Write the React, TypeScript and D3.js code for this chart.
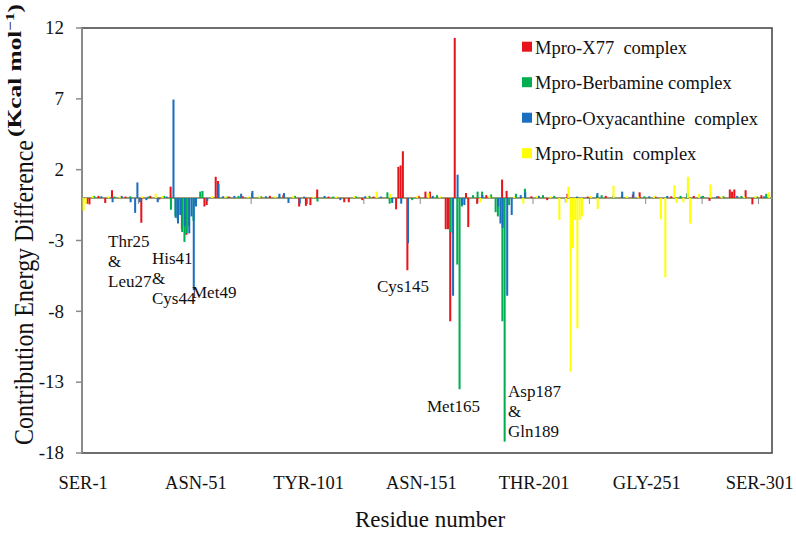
import React from "react";
import * as d3 from "d3";

// ---------- data ----------
const residues: number[] = d3.range(1, 307); // residue categories 1..306
const tickResidues = [1, 51, 101, 151, 201, 251, 301];
const tickLabels = ["SER-1", "ASN-51", "TYR-101", "ASN-151", "THR-201", "GLY-251", "SER-301"];
const yTicks = [-18, -13, -8, -3, 2, 7, 12];

const seriesNames = ["Mpro-X77  complex", "Mpro-Berbamine complex", "Mpro-Oxyacanthine  complex", "Mpro-Rutin  complex"];
const seriesColors = ["#e8141c", "#00ad50", "#1a6fbf", "#ffff00"];

// [residue, energy difference]; residues not listed are 0
const x77: [number, number][] = [
  [3, -0.4], [4, -0.45], [8, 0.15], [11, -0.35], [14, 0.55], [20, 0.1], [27, -1.75], [31, 0.15], [35, -0.1],
  [40, 0.8], [45, -2.2], [47, -2.6], [55, -0.6], [56, -0.5], [60, 1.5], [61, 1.2], [66, 0.1], [72, 0.12],
  [84, 0.15], [90, 0.2], [97, -0.6], [100, -0.55], [102, -0.5], [105, 0.6], [110, 0.1], [117, -0.3], [119, -0.3],
  [125, -0.15], [130, 0.1], [140, -0.8], [141, 2.2], [142, 2.3], [143, 3.3], [145, -5.1], [150, 0.15], [153, 0.45],
  [155, 0.45], [162, -2.2], [163, -2.2], [164, -8.7], [166, 11.3], [171, 0.35], [172, -2.05], [176, -0.4],
  [180, 0.2], [187, 1.3], [189, 0.5], [200, 0.12], [207, -0.15], [216, 0.3], [225, 0.1], [233, 0.15], [245, 0.25],
  [248, 0.4], [255, 0.1], [262, 0.12], [272, 0.15], [279, -0.2], [283, 0.12], [288, 0.6], [289, 0.45], [290, 0.6],
  [295, 0.55], [298, -0.45], [302, 0.2],
];
const berbamine: [number, number][] = [
  [6, 0.15], [15, 0.1], [22, 0.12], [30, 0.1], [37, 0.15], [40, -0.83], [42, -1.3], [43, -1.5], [45, -2.4],
  [46, -3.1], [47, -2.5], [48, -2.0], [50, -1.6], [53, 0.45], [54, 0.5], [65, 0.1], [70, 0.15], [76, 0.35],
  [80, 0.12], [88, 0.1], [95, 0.15], [105, -0.25], [112, 0.1], [122, 0.12], [128, 0.15], [136, 0.4], [137, -0.4],
  [147, -0.15], [158, 0.2], [164, -2.4], [165, -2.5], [167, -4.7], [168, -13.5], [169, -0.6], [174, 0.2],
  [176, 0.45], [178, 0.45], [182, 0.25], [184, -1.0], [185, -1.3], [187, -8.7], [188, -17.2], [190, -0.5],
  [193, 0.3], [197, 0.65], [205, 0.2], [210, 0.15], [229, 0.2], [231, 0.2], [240, 0.15], [250, 0.12], [266, 0.15],
  [269, 0.3], [276, 0.15], [285, 0.12], [293, 0.15], [300, 0.1], [304, 0.3],
];
const oxyacanthine: [number, number][] = [
  [9, 0.12], [14, -0.3], [18, 0.15], [22, -0.3], [24, -1.05], [25, 1.1], [26, -0.3], [29, -0.15], [34, -0.3],
  [38, 0.1], [41, 6.95], [42, -1.4], [43, -1.8], [44, -1.2], [46, -2.0], [48, -2.5], [49, -1.3], [50, -6.5],
  [51, -0.6], [56, -0.2], [61, 1.0], [63, 0.12], [68, 0.15], [71, 0.3], [76, 0.5], [82, 0.12], [88, 0.3],
  [90, 0.35], [92, -0.35], [97, -0.4], [99, 0.1], [108, 0.15], [115, -0.15], [126, 0.12], [133, 0.1],
  [138, -0.35], [142, -0.4], [145, -3.2], [156, 0.15], [165, -6.9], [167, 1.65], [169, -0.5], [170, -0.5],
  [178, 0.2], [185, -0.6], [186, -1.8], [187, -2.1], [189, -6.9], [191, -1.2], [195, 0.2], [197, 0.4], [203, 0.15],
  [215, -0.3], [220, 0.1], [229, 0.35], [236, 0.15], [240, 0.45], [245, 0.45], [252, 0.12], [260, 0.15],
  [269, 0.35], [275, 0.1], [282, 0.12], [291, 0.15], [303, 0.12],
];
const rutin: [number, number][] = [
  [1, -0.9], [2, -0.4], [5, 0.15], [12, 0.12], [17, 0.1], [27, 0.12], [33, 0.3], [36, 0.15], [58, 0.15],
  [64, 0.12], [74, 0.1], [79, 0.15], [86, 0.12], [94, 0.15], [103, 0.1], [113, 0.12], [121, 0.15], [127, 0.1],
  [131, 0.45], [137, 0.3], [149, 0.15], [154, 0.35], [159, 0.12], [177, -0.3], [181, 0.15], [192, 0.1],
  [196, -0.4], [202, 0.15], [208, 0.12], [212, -1.55], [215, -0.35], [216, 0.78], [217, -12.25], [218, -3.55],
  [219, -1.55], [220, -9.2], [221, -1.55], [222, -1.3], [226, 0.15], [229, -0.78], [236, 0.87], [242, 0.12],
  [247, 0.1], [254, 0.15], [257, -1.5], [259, -5.6], [263, 0.9], [264, -0.35], [267, -0.3], [269, 1.5],
  [270, -1.8], [274, 0.3], [279, 0.95], [284, 0.12], [294, 0.1], [299, 0.15], [305, 0.4],
];
const allSeries = [x77, berbamine, oxyacanthine, rutin];

const annotations: { lines: string[]; x: number; y: number }[] = [
  { lines: ["Thr25", "&", "Leu27"], x: 108, y: 246.5 },
  { lines: ["His41", "&", "Cys44"], x: 152, y: 263.5 },
  { lines: ["Met49"], x: 192, y: 298 },
  { lines: ["Cys145"], x: 377, y: 292 },
  { lines: ["Met165"], x: 427, y: 412 },
  { lines: ["Asp187", "&", "Gln189"], x: 508, y: 397 },
];

// ---------- layout ----------
const W = 796;
const H = 536;
const left = 82;
const right = 772;
const top = 28;
const bottom = 453;
const serif = "'Liberation Serif', 'Times New Roman', serif";

export default function App() {
  const x = d3.scaleBand<number>().domain(residues).range([left, right]).padding(0);
  const y = d3.scaleLinear().domain([-18, 12]).range([bottom, top]);
  const bw = x.bandwidth();
  const y0 = y(0);
  const barW = bw * 0.9;

  return (
    <svg width={W} height={H} style={{ position: "absolute", left: 0, top: 0, background: "#fff" }}>
      {/* plot frame */}
      <rect x={left} y={top} width={right - left} height={bottom - top} fill="#fff" stroke="#4a4a4a" strokeWidth={1.6} />
      {/* left axis */}
      <line x1={left} x2={left} y1={top} y2={bottom} stroke="#8a8a8a" strokeWidth={2} />
      {yTicks.map((t) => (
        <g key={t}>
          <line x1={left - 6} x2={left} y1={y(t)} y2={y(t)} stroke="#8a8a8a" strokeWidth={1.5} />
          <text x={64} y={y(t)} dy="0.33em" textAnchor="end" fontFamily={serif} fontSize={19} fill="#111">
            {t}
          </text>
        </g>
      ))}

      {/* zero baseline (category axis) */}
      <line x1={left} x2={right} y1={y0} y2={y0} stroke="#9c9c78" strokeWidth={2.2} />
      {residues
        .filter((r) => (r - 1) % 25 === 0 && r > 1)
        .map((r) => (
          <line key={r} x1={x(r)!} x2={x(r)!} y1={y0} y2={y0 + 6} stroke="#8a8a8a" strokeWidth={1} />
        ))}

      {/* bars */}
      {allSeries.map((s, si) => (
        <g key={si} fill={seriesColors[si]}>
          {s.map(([r, v]) => {
            const yv = y(v);
            return (
              <rect
                key={r}
                x={x(r)! + (bw - barW) / 2 + (si - 1.5) * 0.3}
                y={Math.min(yv, y0)}
                width={barW}
                height={Math.abs(yv - y0)}
              />
            );
          })}
        </g>
      ))}

      {/* x tick labels */}
      {tickResidues.map((r, i) => (
        <text key={r} x={x(r)! + bw / 2} y={489} textAnchor="middle" fontFamily={serif} fontSize={18.5} fill="#111">
          {tickLabels[i]}
        </text>
      ))}
      <text x={430} y={527} textAnchor="middle" fontFamily={serif} fontSize={23} fill="#111">
        Residue number
      </text>

      {/* y title */}
      <text transform="translate(33,445) rotate(-90)" fontFamily={serif} fontSize={27} fill="#111" textLength={305} lengthAdjust="spacingAndGlyphs">
        Contribution Energy Difference
      </text>
      <text transform="translate(21,137) rotate(-90)" fontFamily={serif} fontSize={18} fontWeight="bold" fill="#111" textLength={133} lengthAdjust="spacingAndGlyphs">
        (Kcal mol<tspan fontSize={12} dy={-7}>−1</tspan><tspan dy={7}>)</tspan>
      </text>

      {/* annotations */}
      {annotations.map((a, i) => (
        <text key={i} fontFamily={serif} fontSize={17} fill="#111">
          {a.lines.map((l, j) => (
            <tspan key={j} x={a.x} y={a.y + j * 20}>
              {l}
            </tspan>
          ))}
        </text>
      ))}

      {/* legend */}
      {seriesNames.map((n, i) => {
        const by = 53.5 + i * 35.5;
        return (
          <g key={n}>
            <rect x={522} y={by - 11.8} width={10} height={10} fill={seriesColors[i]} />
            <text x={535} y={by} fontFamily={serif} fontSize={18.5} fill="#111" style={{ whiteSpace: "pre" }}>
              {n}
            </text>
          </g>
        );
      })}
    </svg>
  );
}
